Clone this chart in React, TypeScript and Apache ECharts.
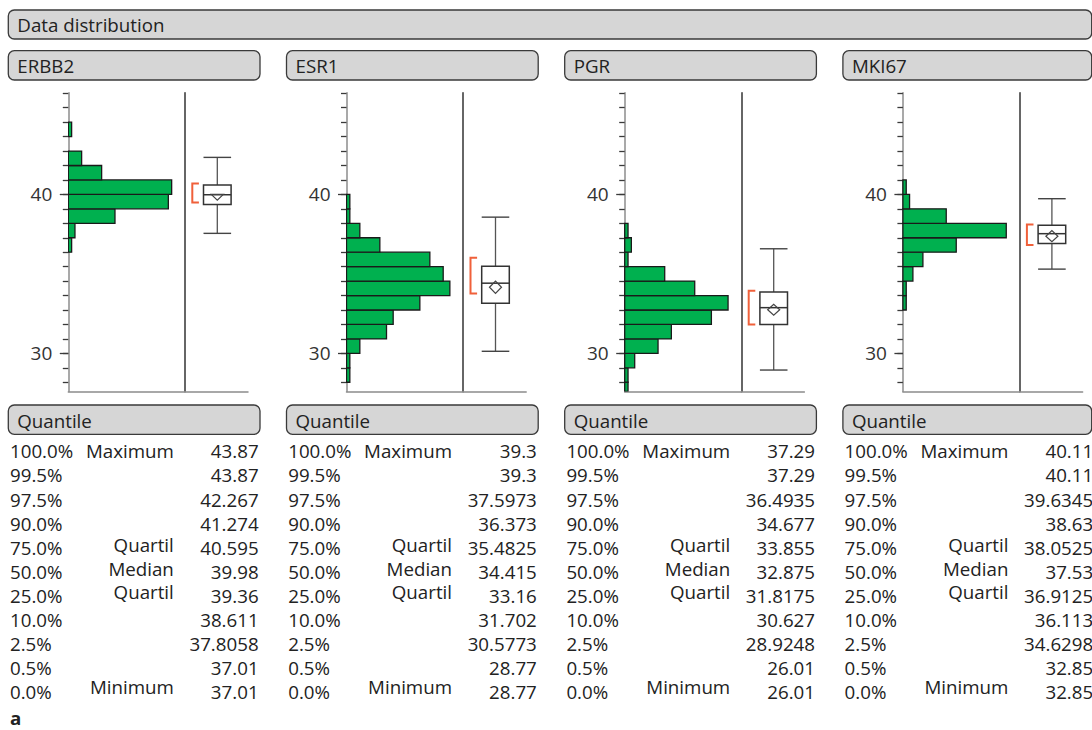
import React, { useEffect, useRef } from "react";
import * as echarts from "echarts";

// ---------- data ----------
const genes = ["ERBB2", "ESR1", "PGR", "MKI67"];
const BIN_WIDTH = 10 / 11;
const Y_MIN = 27.6;
const Y_MAX = 46.4;
const majorTickValues = [30, 40];

// histogram: index of lowest bin (lower edge = index * BIN_WIDTH); counts listed bottom -> top
const erbb2FirstBin = 40;
const erbb2Counts = [1, 2, 14, 30, 31, 10, 4, 0, 1];
const esr1FirstBin = 31;
const esr1Counts = [1, 1, 4, 12, 14, 22, 31, 29, 25, 10, 4, 1, 1];
const pgrFirstBin = 30;
const pgrCounts = [1, 1, 3, 10, 14, 26, 31, 21, 12, 1, 2, 1];
const mki67FirstBin = 36;
const mki67Counts = [1, 1, 3, 6, 16, 31, 13, 2, 1];

// quantile table
const quantileLevels = ["100.0%", "99.5%", "97.5%", "90.0%", "75.0%", "50.0%", "25.0%", "10.0%", "2.5%", "0.5%", "0.0%"];
const quantileNames = ["Maximum", "", "", "", "Quartil", "Median", "Quartil", "", "", "", "Minimum"];
const erbb2Quantiles = [43.87, 43.87, 42.267, 41.274, 40.595, 39.98, 39.36, 38.611, 37.8058, 37.01, 37.01];
const esr1Quantiles = [39.3, 39.3, 37.5973, 36.373, 35.4825, 34.415, 33.16, 31.702, 30.5773, 28.77, 28.77];
const pgrQuantiles = [37.29, 37.29, 36.4935, 34.677, 33.855, 32.875, 31.8175, 30.627, 28.9248, 26.01, 26.01];
const mki67Quantiles = [40.11, 40.11, 39.6345, 38.63, 38.0525, 37.53, 36.9125, 36.113, 34.6298, 32.85, 32.85];

// outlier box plot extras (per gene, same order as genes)
const whiskerLow = [37.55, 30.13, 28.95, 35.3];
const whiskerHigh = [42.33, 38.57, 36.58, 39.73];
const meanValues = [40.0, 34.16, 32.74, 37.37];
const meanCiLow = [39.64, 33.77, 32.4, 37.02];
const meanCiHigh = [40.0, 34.55, 33.08, 37.72];
const shortestHalfLow = [39.49, 33.77, 31.82, 36.82];
const shortestHalfHigh = [40.69, 36.01, 33.94, 38.11];

const firstBins = [erbb2FirstBin, esr1FirstBin, pgrFirstBin, mki67FirstBin];
const binCounts = [erbb2Counts, esr1Counts, pgrCounts, mki67Counts];
const quantileTables = [erbb2Quantiles, esr1Quantiles, pgrQuantiles, mki67Quantiles];

// ---------- layout / style ----------
const FONT = "'Open Sans', 'Noto Sans', sans-serif";
const TXT = "#222";
const FS = 18;
const SX = 1.04;
const PITCH = 278.2;
const LEFT0 = 8.3;
const GRID_TOP = 92.7;
const GRID_H = 298.8;
const HIST_W = 116.7;
const BOX_W = 63;
const HIST_MAX = 35;
const BOX_CENTER = 32.3;

function buildOption() {
  const grid: any[] = [];
  const xAxis: any[] = [];
  const yAxis: any[] = [];
  const series: any[] = [];
  const graphic: any[] = [];

  const minorTicks: number[] = [];
  for (let k = Math.ceil(Y_MIN / BIN_WIDTH); k * BIN_WIDTH <= Y_MAX; k++) minorTicks.push(k * BIN_WIDTH);

  const text = (x: number, y: number, s: string, align: string, extra: any = {}) => ({
    type: "text",
    x,
    y,
    scaleX: SX,
    silent: true,
    style: {
      text: s,
      fill: TXT,
      font: `${extra.weight || "normal"} ${FS}px ${FONT}`,
      fontSize: FS,
      fontFamily: FONT,
      fontWeight: extra.weight || "normal",
      align,
      textAlign: align,
      verticalAlign: "middle",
      textVerticalAlign: "middle",
    },
  });
  const header = (x: number, y: number, w: number, h: number, label: string) => [
    {
      type: "rect",
      shape: { x, y, width: w, height: h, r: 6 },
      style: { fill: "#d6d6d6", stroke: "#3a3a3a", lineWidth: 1.3 },
      silent: true,
    },
    text(x + 9, y + h / 2 + 0.5, label, "left"),
  ];

  graphic.push(...header(LEFT0, 10, 1083.4, 29, "Data distribution"));

  genes.forEach((gene, i) => {
    const L = LEFT0 + PITCH * i;
    const axisX = L + 60;
    const sepX = axisX + HIST_W;
    const hw = Math.min(251.7, 1091.7 - L);

    grid.push({ left: axisX, top: GRID_TOP, width: HIST_W, height: GRID_H });
    grid.push({ left: sepX, top: GRID_TOP, width: BOX_W, height: GRID_H });

    xAxis.push({
      type: "value", gridIndex: 2 * i, min: 0, max: HIST_MAX,
      axisLine: { show: true, onZero: false, lineStyle: { color: "#8c8c8c", width: 1.5 } },
      axisTick: { show: false }, axisLabel: { show: false }, splitLine: { show: false },
    });
    xAxis.push({
      type: "value", gridIndex: 2 * i + 1, min: 0, max: BOX_W,
      axisLine: { show: true, onZero: false, lineStyle: { color: "#8c8c8c", width: 1.5 } },
      axisTick: { show: false }, axisLabel: { show: false }, splitLine: { show: false },
    });

    yAxis.push({
      type: "value", gridIndex: 2 * i, min: Y_MIN, max: Y_MAX, position: "left",
      axisLine: { show: true, onZero: false, lineStyle: { color: "#8c8c8c", width: 1.5 } },
      axisTick: { show: true, length: 5.5, customValues: minorTicks, lineStyle: { color: "#3a3a3a", width: 1.3 } },
      axisLabel: { show: false }, splitLine: { show: false },
    });
    yAxis.push({
      type: "value", gridIndex: 2 * i, min: Y_MIN, max: Y_MAX, position: "left",
      axisLine: { show: false },
      axisTick: { show: true, length: 8.5, customValues: majorTickValues, lineStyle: { color: "#3a3a3a", width: 1.3 } },
      axisLabel: {
        show: true, customValues: majorTickValues, fontSize: 19, fontFamily: FONT, color: "#333", margin: 16,
        formatter: (v: number) => String(Math.round(v)),
      },
      splitLine: { show: false },
    });
    yAxis.push({
      type: "value", gridIndex: 2 * i + 1, min: Y_MIN, max: Y_MAX, position: "left",
      axisLine: { show: true, onZero: false, lineStyle: { color: "#333", width: 1.5 } },
      axisTick: { show: false }, axisLabel: { show: false }, splitLine: { show: false },
    });

    const first = firstBins[i];
    series.push({
      type: "custom",
      xAxisIndex: 2 * i,
      yAxisIndex: 3 * i,
      clip: true,
      data: binCounts[i].map((c, j) => [first + j, c]),
      renderItem: (params: any, api: any) => {
        const k = api.value(0);
        const c = api.value(1);
        if (!c) return null;
        const lo = Math.max(k * BIN_WIDTH, Y_MIN);
        const hi = Math.min((k + 1) * BIN_WIDTH, Y_MAX);
        const p0 = api.coord([0, hi]);
        const p1 = api.coord([c, lo]);
        return {
          type: "rect",
          shape: { x: p0[0], y: p0[1], width: p1[0] - p0[0], height: p1[1] - p0[1] },
          style: { fill: "#00b04f", stroke: "#1a1a1a", lineWidth: 1.3 },
        };
      },
    });

    const q = quantileTables[i];
    series.push({
      type: "custom",
      xAxisIndex: 2 * i + 1,
      yAxisIndex: 3 * i + 2,
      data: [[BOX_CENTER, q[5]]],
      renderItem: (params: any, api: any) => {
        const cx = api.coord([BOX_CENTER, q[5]])[0];
        const y = (v: number) => api.coord([BOX_CENTER, v])[1];
        const h = 13.8;
        const wl = { stroke: "#555", lineWidth: 1.3 };
        return {
          type: "group",
          children: [
            { type: "line", shape: { x1: cx, y1: y(whiskerHigh[i]), x2: cx, y2: y(whiskerLow[i]) }, style: wl },
            { type: "line", shape: { x1: cx - h, y1: y(whiskerHigh[i]), x2: cx + h, y2: y(whiskerHigh[i]) }, style: { stroke: "#444", lineWidth: 1.4 } },
            { type: "line", shape: { x1: cx - h, y1: y(whiskerLow[i]), x2: cx + h, y2: y(whiskerLow[i]) }, style: { stroke: "#444", lineWidth: 1.4 } },
            {
              type: "rect",
              shape: { x: cx - h, y: y(q[4]), width: 2 * h, height: y(q[6]) - y(q[4]) },
              style: { fill: "#fff", stroke: "#333", lineWidth: 1.5 },
            },
            { type: "line", shape: { x1: cx - h, y1: y(q[5]), x2: cx + h, y2: y(q[5]) }, style: { stroke: "#333", lineWidth: 1.5 } },
            {
              type: "polygon",
              shape: {
                points: [
                  [cx - 6, y(meanValues[i])],
                  [cx, y(meanCiHigh[i])],
                  [cx + 6, y(meanValues[i])],
                  [cx, y(meanCiLow[i])],
                ],
              },
              style: { fill: "none", stroke: "#444", lineWidth: 1.2 },
            },
            {
              type: "polyline",
              shape: {
                points: [
                  [cx - 18.4, y(shortestHalfHigh[i])],
                  [cx - 25, y(shortestHalfHigh[i])],
                  [cx - 25, y(shortestHalfLow[i])],
                  [cx - 18.4, y(shortestHalfLow[i])],
                ],
              },
              style: { fill: "none", stroke: "#f0603a", lineWidth: 2 },
            },
          ],
        };
      },
    });

    // headers
    graphic.push(...header(L, 50.7, hw, 29.3, gene));
    graphic.push(...header(L, 405, hw, 29.3, "Quantile"));

    // quantile table
    quantileLevels.forEach((lv, r) => {
      graphic.push(text(L + 1.7, 451 + 24.1 * r, lv, "left"));
      if (quantileNames[r]) graphic.push(text(L + 165.5, 450.5 + 23.6 * r, quantileNames[r], "right"));
      graphic.push(text(L + 250.3, 451 + 24.1 * r, String(q[r]), "right"));
    });
  });

  graphic.push(text(10, 718, "a", "left", { weight: "bold" }));

  return { animation: false, backgroundColor: "#fff", grid, xAxis, yAxis, series, graphic };
}

export default function App() {
  const ref = useRef<HTMLDivElement>(null);
  useEffect(() => {
    const chart = echarts.init(ref.current!, null, { renderer: "svg" });
    chart.setOption(buildOption() as any);
    return () => chart.dispose();
  }, []);
  return (
    <div
      ref={ref}
      style={{ position: "absolute", left: 0, top: 0, width: 1092, height: 730, background: "#fff" }}
    />
  );
}
